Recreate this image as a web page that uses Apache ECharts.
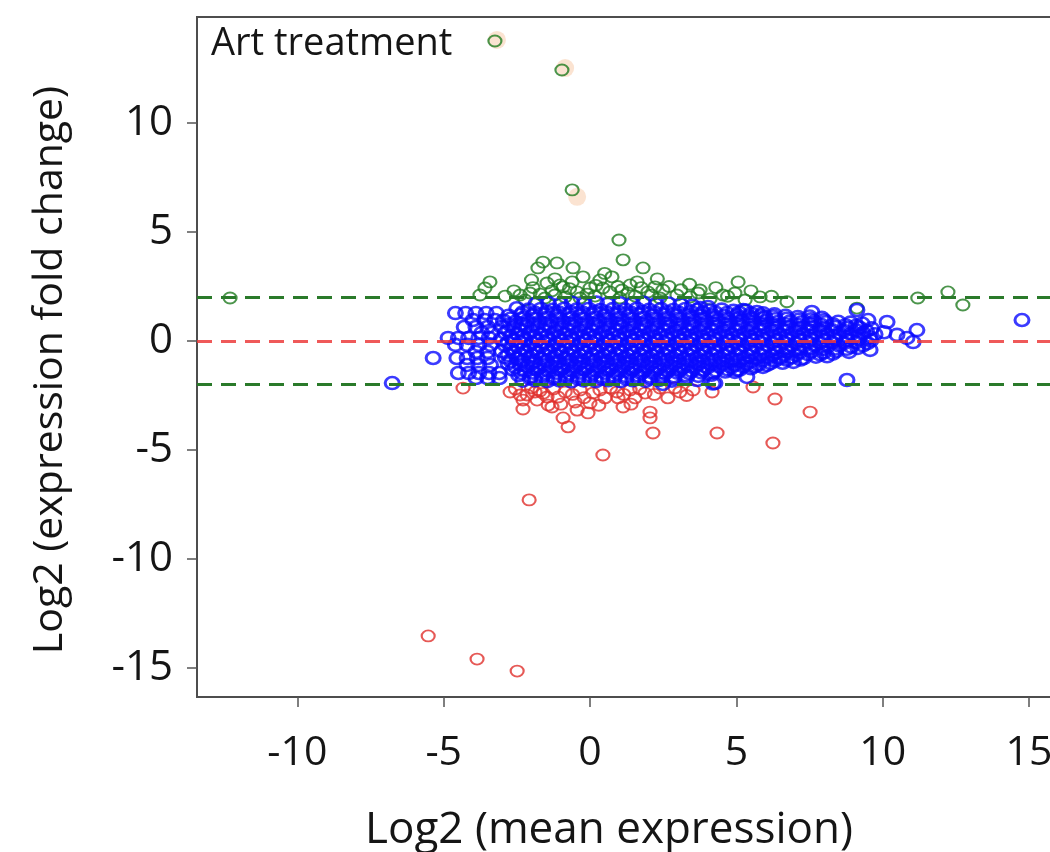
<!DOCTYPE html>
<html>
<head>
<meta charset="utf-8">
<title>Art treatment MA plot</title>
<script src="https://cdn.jsdelivr.net/npm/echarts@6.0.0/dist/echarts.min.js"></script>
<style>
  html, body { margin: 0; padding: 0; background: #fff; }
  #chart { width: 1050px; height: 852px; }
</style>
</head>
<body>
<div id="chart"></div>
<script>
// axis ticks
const xTicks = [-10, -5, 0, 5, 10, 15]
const yTicks = [-15, -10, -5, 0, 5, 10]
// fold change cut-offs (dashed lines)
const upCut = 2
const downCut = -2
const zeroLine = 0

// [log2 mean expression, log2 fold change]
const greenPoints = [
  [-12.3, 1.97], [-3.76, 2.11], [-3.59, 2.43], [-3.42, 2.71], [-2.9, 2.06], [-2.39, 2.11],
  [-2.05, 2.2], [-1.78, 3.35], [-1.61, 3.62], [-1.13, 3.58], [-0.58, 3.35], [-1.47, 2.66],
  [-0.92, 2.48], [-0.44, 2.25], [-0.24, 2.94], [0, 2.43], [0.34, 2.8], [0.44, 2.43],
  [0.75, 2.94], [0.68, 2.25], [0.99, 4.63], [1.13, 3.72], [1.81, 3.35], [1.09, 2.34],
  [1.61, 2.71], [1.98, 2.25], [2.49, 2.34], [2.97, 2.11], [3.69, 2.2], [4.54, 2.11],
  [4.95, 2.2], [5.06, 2.71], [5.81, 2.02], [6.73, 1.8], [9.12, 1.51], [11.2, 1.97],
  [12.23, 2.25], [12.74, 1.65], [-2.22, 1.88], [-1.54, 1.97], [-1.2, 2.11], [-0.85, 2.02],
  [-0.34, 1.97], [0.17, 2.06], [1.02, 1.97], [1.54, 2.06], [2.39, 1.97], [3.42, 2.02],
  [4.1, 1.93], [-1.02, 2.57], [-0.61, 2.71], [1.37, 2.57], [2.22, 2.48], [3.76, 2.34],
  [5.3, 1.88], [-2.6, 2.3], [-1.95, 2.45], [-1.7, 2.15], [-1.3, 2.3], [-0.7, 2.4],
  [-0.1, 2.15], [0.2, 2.55], [0.95, 2.5], [1.3, 2.2], [1.75, 2.45], [2.1, 2.1],
  [2.7, 2.5], [3.1, 2.35], [3.4, 2.6], [4.3, 2.45], [4.7, 2.05], [5.5, 2.3],
  [6.2, 2.05], [-2.0, 2.8], [-1.2, 2.85], [0.5, 3.1], [2.3, 2.85],
  [-3.25, 13.76], [-0.96, 12.43], [-0.61, 6.93]
]

const redPoints = [
  [-4.34, -2.16], [-2.73, -2.34], [-2.39, -2.48], [-2.15, -2.48], [-1.88, -2.34], [-1.47, -2.57],
  [-1.09, -2.57], [-0.85, -2.34], [-1.81, -2.71], [-2.29, -3.12], [-1.3, -3.03], [-0.51, -2.8],
  [0, -2.84], [-0.44, -3.17], [-0.07, -3.3], [-0.92, -3.53], [-0.75, -3.94], [0.1, -2.39],
  [0.51, -2.61], [0.92, -2.34], [0.96, -2.61], [1.13, -3.03], [1.54, -2.61], [1.88, -2.39],
  [2.05, -3.26], [2.05, -3.53], [2.15, -4.22], [0.44, -5.23], [2.66, -2.61], [3.07, -2.34],
  [3.52, -2.25], [4.17, -2.34], [5.57, -2.11], [6.32, -2.66], [7.52, -3.26], [4.34, -4.22],
  [6.25, -4.68], [-2.08, -7.29], [-5.53, -13.53], [-3.86, -14.59], [-2.49, -15.14], [-1.71, -2.29],
  [-0.34, -2.25], [0.34, -2.25], [1.37, -2.25], [2.39, -2.16], [-2.29, -2.71], [-1.43, -2.94],
  [-2.55, -2.2], [-2.0, -2.15], [-1.6, -2.4], [-1.25, -2.2], [-0.6, -2.45], [-0.2, -2.6],
  [0.7, -2.15], [1.15, -2.45], [1.7, -2.2], [2.2, -2.45], [2.9, -2.15], [3.3, -2.5],
  [-1.0, -2.9], [0.3, -2.95], [1.4, -2.9]
]

// the dense cloud between the cut-offs
const bluePoints = [
  [-1.85, 1.7], [-1.42, 1.74], [-1.0, 1.7], [-0.62, 1.75], [-0.2, 1.71], [0.22, 1.76], [0.6, 1.7],
  [1.02, 1.73], [1.45, 1.7], [1.83, 1.75], [2.25, 1.69], [2.68, 1.72], [3.1, 1.68], [3.5, 1.62],

  [-2.5, 1.5], [-2.1, 1.44], [-1.68, 1.47], [-1.27, 1.43], [-0.88, 1.48], [-0.46, 1.44], [-0.05, 1.47],
  [0.36, 1.42], [0.78, 1.46], [1.2, 1.44], [1.6, 1.48], [2.02, 1.43], [2.43, 1.46], [2.85, 1.42],
  [3.26, 1.47], [3.66, 1.43], [4.08, 1.4], [4.5, 1.44], [4.9, 1.38], [5.32, 1.4], [5.7, 1.33],

  [-2.78, 1.16], [-2.36, 1.21], [-1.95, 1.17], [-1.55, 1.2], [-1.14, 1.15], [-0.74, 1.19], [-0.33, 1.16],
  [0.08, 1.2], [0.5, 1.16], [0.9, 1.19], [1.32, 1.15], [1.72, 1.2], [2.14, 1.16], [2.55, 1.19],
  [2.96, 1.15], [3.38, 1.2], [3.78, 1.16], [4.2, 1.18], [4.6, 1.14], [5.02, 1.18], [5.44, 1.13],
  [5.85, 1.17], [6.26, 1.12], [6.68, 1.15], [7.1, 1.1], [7.5, 1.12], [7.92, 1.06],

  [-2.96, 0.93], [-2.55, 0.88], [-2.14, 0.92], [-1.73, 0.87], [-1.33, 0.91], [-0.92, 0.88], [-0.52, 0.92],
  [-0.12, 0.87], [0.3, 0.91], [0.7, 0.88], [1.11, 0.92], [1.52, 0.87], [1.93, 0.91], [2.34, 0.88],
  [2.74, 0.92], [3.16, 0.87], [3.56, 0.91], [3.97, 0.88], [4.38, 0.92], [4.78, 0.87], [5.2, 0.91],
  [5.6, 0.88], [6.02, 0.92], [6.42, 0.87], [6.84, 0.9], [7.24, 0.86], [7.66, 0.9], [8.06, 0.86],
  [8.48, 0.88], [8.9, 0.84], [9.3, 0.8],

  [-3.02, 0.65], [-2.61, 0.6], [-2.2, 0.64], [-1.8, 0.6], [-1.39, 0.63], [-0.98, 0.59], [-0.58, 0.64],
  [-0.17, 0.6], [0.24, 0.63], [0.64, 0.59], [1.05, 0.64], [1.46, 0.6], [1.86, 0.63], [2.27, 0.59],
  [2.68, 0.64], [3.08, 0.6], [3.5, 0.63], [3.9, 0.59], [4.31, 0.64], [4.72, 0.6], [5.12, 0.63],
  [5.53, 0.59], [5.94, 0.64], [6.35, 0.6], [6.75, 0.63], [7.16, 0.59], [7.57, 0.63], [7.98, 0.6],
  [8.38, 0.64], [8.8, 0.6], [9.2, 0.62], [9.62, 0.58],

  [-2.9, 0.37], [-2.49, 0.32], [-2.08, 0.36], [-1.67, 0.31], [-1.26, 0.35], [-0.86, 0.32], [-0.45, 0.36],
  [-0.04, 0.31], [0.37, 0.35], [0.77, 0.32], [1.18, 0.36], [1.59, 0.31], [2.0, 0.35], [2.4, 0.32],
  [2.81, 0.36], [3.22, 0.31], [3.63, 0.35], [4.03, 0.32], [4.44, 0.36], [4.85, 0.31], [5.26, 0.35],
  [5.66, 0.32], [6.07, 0.36], [6.48, 0.31], [6.89, 0.35], [7.29, 0.32], [7.7, 0.36], [8.11, 0.31],
  [8.52, 0.35], [8.92, 0.32], [9.33, 0.36], [9.74, 0.31], [10.05, 0.4],

  [-3.04, 0.09], [-2.63, 0.04], [-2.22, 0.08], [-1.81, 0.03], [-1.41, 0.07], [-1.0, 0.04], [-0.59, 0.08],
  [-0.18, 0.03], [0.22, 0.07], [0.63, 0.04], [1.04, 0.08], [1.45, 0.03], [1.85, 0.07], [2.26, 0.04],
  [2.67, 0.08], [3.08, 0.03], [3.48, 0.07], [3.89, 0.04], [4.3, 0.08], [4.71, 0.03], [5.11, 0.07],
  [5.52, 0.04], [5.93, 0.08], [6.34, 0.03], [6.74, 0.07], [7.15, 0.04], [7.56, 0.08], [7.97, 0.03],
  [8.37, 0.07], [8.78, 0.04], [9.19, 0.08], [9.6, 0.02],

  [-2.9, -0.19], [-2.49, -0.24], [-2.08, -0.2], [-1.67, -0.25], [-1.26, -0.21], [-0.86, -0.24], [-0.45, -0.2],
  [-0.04, -0.25], [0.37, -0.21], [0.77, -0.24], [1.18, -0.2], [1.59, -0.25], [2.0, -0.21], [2.4, -0.24],
  [2.81, -0.2], [3.22, -0.25], [3.63, -0.21], [4.03, -0.24], [4.44, -0.2], [4.85, -0.25], [5.26, -0.21],
  [5.66, -0.24], [6.07, -0.2], [6.48, -0.25], [6.89, -0.21], [7.29, -0.24], [7.7, -0.2], [8.11, -0.25],
  [8.52, -0.21], [8.92, -0.26], [9.33, -0.2],

  [-3.02, -0.47], [-2.61, -0.52], [-2.2, -0.48], [-1.8, -0.53], [-1.39, -0.49], [-0.98, -0.52], [-0.58, -0.48],
  [-0.17, -0.53], [0.24, -0.49], [0.64, -0.52], [1.05, -0.48], [1.46, -0.53], [1.86, -0.49], [2.27, -0.52],
  [2.68, -0.48], [3.08, -0.53], [3.5, -0.49], [3.9, -0.52], [4.31, -0.48], [4.72, -0.53], [5.12, -0.49],
  [5.53, -0.52], [5.94, -0.48], [6.35, -0.53], [6.75, -0.49], [7.16, -0.52], [7.57, -0.48], [7.98, -0.53],
  [8.4, -0.47], [8.85, -0.5],

  [-2.9, -0.75], [-2.49, -0.8], [-2.08, -0.76], [-1.67, -0.81], [-1.26, -0.77], [-0.86, -0.8], [-0.45, -0.76],
  [-0.04, -0.81], [0.37, -0.77], [0.77, -0.8], [1.18, -0.76], [1.59, -0.81], [2.0, -0.77], [2.4, -0.8],
  [2.81, -0.76], [3.22, -0.81], [3.63, -0.77], [4.03, -0.8], [4.44, -0.76], [4.85, -0.81], [5.26, -0.77],
  [5.66, -0.8], [6.07, -0.76], [6.48, -0.8], [6.89, -0.75], [7.3, -0.78], [7.72, -0.72], [8.1, -0.7],

  [-2.8, -1.03], [-2.39, -1.08], [-1.98, -1.04], [-1.57, -1.09], [-1.17, -1.05], [-0.76, -1.08], [-0.35, -1.04],
  [0.06, -1.09], [0.46, -1.05], [0.87, -1.08], [1.28, -1.04], [1.69, -1.09], [2.09, -1.05], [2.5, -1.08],
  [2.91, -1.04], [3.32, -1.09], [3.72, -1.05], [4.13, -1.08], [4.54, -1.04], [4.95, -1.09], [5.35, -1.04],
  [5.76, -1.07], [6.17, -1.02], [6.58, -1.0], [6.95, -0.96],

  [-2.64, -1.31], [-2.23, -1.36], [-1.82, -1.32], [-1.42, -1.37], [-1.01, -1.33], [-0.6, -1.36], [-0.19, -1.32],
  [0.21, -1.37], [0.62, -1.33], [1.03, -1.36], [1.44, -1.32], [1.84, -1.37], [2.25, -1.33], [2.66, -1.36],
  [3.07, -1.32], [3.47, -1.37], [3.88, -1.33], [4.29, -1.35], [4.7, -1.3], [5.1, -1.32], [5.5, -1.25],

  [-2.44, -1.57], [-2.03, -1.62], [-1.62, -1.58], [-1.22, -1.63], [-0.81, -1.59], [-0.4, -1.62], [0.01, -1.58],
  [0.41, -1.63], [0.82, -1.59], [1.23, -1.62], [1.64, -1.58], [2.04, -1.63], [2.45, -1.59], [2.86, -1.62],
  [3.27, -1.57], [3.7, -1.6], [4.15, -1.55],

  [-2.3, -1.82], [-1.88, -1.8], [-1.46, -1.84], [-1.05, -1.81], [-0.64, -1.85], [-0.22, -1.81], [0.2, -1.84],
  [0.62, -1.8], [1.04, -1.84], [1.46, -1.8], [1.9, -1.83], [2.35, -1.79], [2.8, -1.82],

  // inner core, points lying between the rows above
  [-2.29, 1.32], [-1.88, 1.29], [-1.47, 1.33], [-1.06, 1.3], [-0.65, 1.32], [-0.24, 1.29], [0.17, 1.33],
  [0.58, 1.3], [0.99, 1.32], [1.4, 1.29], [1.81, 1.33], [2.22, 1.3], [2.63, 1.32], [3.04, 1.29],
  [3.45, 1.33], [3.86, 1.3], [4.27, 1.31], [4.68, 1.28], [5.09, 1.3], [5.5, 1.26], [5.91, 1.27], [6.3, 1.22],

  [-2.7, 1.03], [-2.29, 1.05], [-1.88, 1.02], [-1.47, 1.06], [-1.06, 1.03], [-0.65, 1.05], [-0.24, 1.02],
  [0.17, 1.06], [0.58, 1.03], [0.99, 1.05], [1.4, 1.02], [1.81, 1.06], [2.22, 1.03], [2.63, 1.05],
  [3.04, 1.02], [3.45, 1.06], [3.86, 1.03], [4.27, 1.05], [4.68, 1.02], [5.09, 1.05], [5.5, 1.02],
  [5.91, 1.04], [6.32, 1.0], [6.73, 1.02], [7.14, 0.98], [7.55, 0.99], [8.0, 0.95],

  [-2.75, 0.76], [-2.34, 0.78], [-1.93, 0.75], [-1.52, 0.77], [-1.11, 0.74], [-0.7, 0.78], [-0.29, 0.75],
  [0.12, 0.77], [0.53, 0.74], [0.94, 0.78], [1.35, 0.75], [1.76, 0.77], [2.17, 0.74], [2.58, 0.78],
  [2.99, 0.75], [3.4, 0.77], [3.81, 0.74], [4.22, 0.78], [4.63, 0.75], [5.04, 0.77], [5.45, 0.74],
  [5.86, 0.78], [6.27, 0.75], [6.68, 0.77], [7.09, 0.74], [7.5, 0.76], [7.91, 0.73], [8.32, 0.75],
  [8.73, 0.72], [9.1, 0.7],

  [-2.8, 0.48], [-2.39, 0.5], [-1.98, 0.47], [-1.57, 0.49], [-1.16, 0.46], [-0.75, 0.5], [-0.34, 0.47],
  [0.07, 0.49], [0.48, 0.46], [0.89, 0.5], [1.3, 0.47], [1.71, 0.49], [2.12, 0.46], [2.53, 0.5],
  [2.94, 0.47], [3.35, 0.49], [3.76, 0.46], [4.17, 0.5], [4.58, 0.47], [4.99, 0.49], [5.4, 0.46],
  [5.81, 0.5], [6.22, 0.47], [6.63, 0.49], [7.04, 0.46], [7.45, 0.5], [7.86, 0.47], [8.27, 0.49],
  [8.68, 0.46], [9.09, 0.49], [9.45, 0.45],

  [-2.7, 0.2], [-2.29, 0.22], [-1.88, 0.19], [-1.47, 0.21], [-1.06, 0.18], [-0.65, 0.22], [-0.24, 0.19],
  [0.17, 0.21], [0.58, 0.18], [0.99, 0.22], [1.4, 0.19], [1.81, 0.21], [2.22, 0.18], [2.63, 0.22],
  [3.04, 0.19], [3.45, 0.21], [3.86, 0.18], [4.27, 0.22], [4.68, 0.19], [5.09, 0.21], [5.5, 0.18],
  [5.91, 0.22], [6.32, 0.19], [6.73, 0.21], [7.14, 0.18], [7.55, 0.22], [7.96, 0.19], [8.37, 0.21],
  [8.78, 0.18], [9.19, 0.22], [9.55, 0.17],

  [-2.8, -0.08], [-2.39, -0.06], [-1.98, -0.09], [-1.57, -0.07], [-1.16, -0.1], [-0.75, -0.06], [-0.34, -0.09],
  [0.07, -0.07], [0.48, -0.1], [0.89, -0.06], [1.3, -0.09], [1.71, -0.07], [2.12, -0.1], [2.53, -0.06],
  [2.94, -0.09], [3.35, -0.07], [3.76, -0.1], [4.17, -0.06], [4.58, -0.09], [4.99, -0.07], [5.4, -0.1],
  [5.81, -0.06], [6.22, -0.09], [6.63, -0.07], [7.04, -0.1], [7.45, -0.06], [7.86, -0.09], [8.27, -0.07],
  [8.68, -0.1], [9.09, -0.06], [9.48, -0.1],

  [-2.7, -0.36], [-2.29, -0.34], [-1.88, -0.37], [-1.47, -0.35], [-1.06, -0.38], [-0.65, -0.34], [-0.24, -0.37],
  [0.17, -0.35], [0.58, -0.38], [0.99, -0.34], [1.4, -0.37], [1.81, -0.35], [2.22, -0.38], [2.63, -0.34],
  [3.04, -0.37], [3.45, -0.35], [3.86, -0.38], [4.27, -0.34], [4.68, -0.37], [5.09, -0.35], [5.5, -0.38],
  [5.91, -0.34], [6.32, -0.37], [6.73, -0.35], [7.14, -0.38], [7.55, -0.34], [7.96, -0.37], [8.37, -0.35],
  [8.78, -0.36], [9.15, -0.32],

  [-2.8, -0.64], [-2.39, -0.62], [-1.98, -0.65], [-1.57, -0.63], [-1.16, -0.66], [-0.75, -0.62], [-0.34, -0.65],
  [0.07, -0.63], [0.48, -0.66], [0.89, -0.62], [1.3, -0.65], [1.71, -0.63], [2.12, -0.66], [2.53, -0.62],
  [2.94, -0.65], [3.35, -0.63], [3.76, -0.66], [4.17, -0.62], [4.58, -0.65], [4.99, -0.63], [5.4, -0.66],
  [5.81, -0.62], [6.22, -0.65], [6.63, -0.63], [7.04, -0.64], [7.45, -0.6], [7.86, -0.61], [8.3, -0.58],

  [-2.7, -0.92], [-2.29, -0.9], [-1.88, -0.93], [-1.47, -0.91], [-1.06, -0.94], [-0.65, -0.9], [-0.24, -0.93],
  [0.17, -0.91], [0.58, -0.94], [0.99, -0.9], [1.4, -0.93], [1.81, -0.91], [2.22, -0.94], [2.63, -0.9],
  [3.04, -0.93], [3.45, -0.91], [3.86, -0.94], [4.27, -0.9], [4.68, -0.93], [5.09, -0.91], [5.5, -0.93],
  [5.91, -0.89], [6.32, -0.9], [6.73, -0.86], [7.2, -0.85],

  [-2.55, -1.2], [-2.14, -1.18], [-1.73, -1.21], [-1.32, -1.19], [-0.91, -1.22], [-0.5, -1.18], [-0.09, -1.21],
  [0.32, -1.19], [0.73, -1.22], [1.14, -1.18], [1.55, -1.21], [1.96, -1.19], [2.37, -1.22], [2.78, -1.18],
  [3.19, -1.21], [3.6, -1.19], [4.01, -1.22], [4.42, -1.18], [4.83, -1.2], [5.24, -1.16], [5.65, -1.15],
  [6.05, -1.1],

  [-2.35, -1.47], [-1.94, -1.45], [-1.53, -1.48], [-1.12, -1.46], [-0.71, -1.49], [-0.3, -1.45], [0.11, -1.48],
  [0.52, -1.46], [0.93, -1.49], [1.34, -1.45], [1.75, -1.48], [2.16, -1.46], [2.57, -1.49], [2.98, -1.45],
  [3.39, -1.47], [3.8, -1.44], [4.21, -1.45], [4.62, -1.4], [4.95, -1.42],

  [-2.05, -1.71], [-1.64, -1.69], [-1.23, -1.72], [-0.82, -1.7], [-0.41, -1.73], [0.0, -1.69], [0.41, -1.72],
  [0.82, -1.7], [1.23, -1.73], [1.64, -1.69], [2.05, -1.72], [2.46, -1.7], [2.87, -1.71], [3.3, -1.68],

  // left fringe
  [-4.6, 1.28], [-4.25, 1.28], [-3.9, 1.28], [-3.55, 1.28], [-3.2, 1.28],
  [-4.0, 0.96], [-3.6, 0.96], [-3.25, 0.96],
  [-4.3, 0.64], [-3.9, 0.64], [-3.5, 0.64],
  [-3.7, 0.37], [-3.35, 0.37],
  [-4.85, 0.14], [-4.5, 0.14], [-4.15, 0.14], [-3.8, 0.14], [-3.45, 0.14],
  [-4.6, -0.18], [-4.2, -0.18], [-3.8, -0.18], [-3.4, -0.18],
  [-3.9, -0.5], [-3.5, -0.5],
  [-5.36, -0.78], [-4.55, -0.78], [-4.2, -0.78], [-3.85, -0.78], [-3.5, -0.78],
  [-4.2, -1.1], [-3.8, -1.1], [-3.4, -1.1],
  [-4.5, -1.47], [-4.15, -1.47], [-3.8, -1.47], [-3.45, -1.47], [-3.1, -1.47],
  [-3.9, -1.7], [-3.5, -1.7], [-3.1, -1.7],
  [-6.76, -1.93],

  // right side and stragglers
  [3.76, 1.51], [4.03, 1.56], [5.23, 1.42], [5.98, 1.1], [7.58, 1.33], [9.12, 1.42], [9.5, 0.96],
  [10.15, 0.87], [10.49, 0.28], [10.83, 0.14], [11.17, 0.5], [11.04, -0.05], [9.57, -0.41],
  [14.76, 0.96], [8.78, -1.79], [5.02, -1.33], [5.36, -1.65], [4.27, -1.93], [5.91, -1.19],
  [4.2, -1.95], [3.66, -1.79], [2.49, -1.97], [6.49, -0.73]
]

// pale halo behind the three highest genes
const haloPoints = [[-3.18, 13.81], [-0.85, 12.52], [-0.44, 6.61]]

const myChart = echarts.init(document.getElementById('chart'))

const fontFamily = "'Open Sans', sans-serif"

const ring = (color, size, width) => ({
  type: 'scatter',
  symbol: 'circle',
  symbolSize: size,
  itemStyle: {
    color: 'rgba(255,255,255,0)',
    borderColor: color,
    borderWidth: width
  }
})

const option = {
  animation: false,
  backgroundColor: '#fff',
  textStyle: { fontFamily },
  title: {
    text: 'Art treatment',
    left: 206,
    top: 20,
    textStyle: { fontFamily, fontSize: 38, fontWeight: 'normal', color: '#151515' }
  },
  grid: {
    left: 197,
    right: -3,
    top: 17,
    bottom: 155,
    outerBoundsMode: 'none',
    containLabel: false,
    show: true,
    borderColor: '#4d4d4d',
    borderWidth: 2
  },
  xAxis: {
    type: 'value',
    min: -13.43,
    max: 15.82,
    name: 'Log2 (mean expression)',
    nameLocation: 'middle',
    nameGap: 111,
    nameTextStyle: { fontFamily, fontSize: 44, color: '#151515', padding: [0, 32, 0, 0] },
    axisLine: { show: false, onZero: false },
    axisTick: { show: true, length: 10, customValues: xTicks, lineStyle: { color: '#555', width: 1.5 } },
    axisLabel: {
      customValues: xTicks,
      margin: 36,
      fontSize: 41,
      color: '#151515',
      formatter: (v) => (xTicks.includes(v) ? String(v) : '')
    },
    splitLine: { show: false }
  },
  yAxis: {
    type: 'value',
    min: -16.33,
    max: 14.86,
    name: 'Log2 (expression fold change)',
    nameLocation: 'middle',
    nameGap: 126,
    nameTextStyle: { fontFamily, fontSize: 41, color: '#151515', padding: [0, 26, 0, 0] },
    axisLine: { show: false, onZero: false },
    axisTick: { show: true, length: 10, customValues: yTicks, lineStyle: { color: '#555', width: 1.5 } },
    axisLabel: {
      customValues: yTicks,
      margin: 24,
      fontSize: 42,
      color: '#151515',
      formatter: (v) => (yTicks.includes(v) ? String(v) : '')
    },
    splitLine: { show: false }
  },
  series: [
    {
      name: 'halo',
      type: 'scatter',
      symbolSize: 18,
      itemStyle: { color: 'rgba(244,186,140,0.5)' },
      data: haloPoints,
      z: 1
    },
    { name: 'up', data: greenPoints, z: 2, ...ring('#1f7a1f', [13, 11], 2) },
    { name: 'down', data: redPoints, z: 2, ...ring('#e0302c', [13, 11], 2) },
    {
      name: 'unchanged',
      data: bluePoints,
      z: 3,
      ...ring('#0a0aff', [14, 12], 2.8),
      markLine: {
        silent: true,
        symbol: 'none',
        label: { show: false },
        z: 6,
        data: [
          { yAxis: upCut, lineStyle: { color: '#2a7a2a', type: [15, 9], width: 3 } },
          { yAxis: zeroLine, lineStyle: { color: 'rgba(236,60,60,0.85)', type: [15, 9], width: 3 } },
          { yAxis: downCut, lineStyle: { color: '#2a7a2a', type: [15, 9], width: 3 } }
        ]
      }
    }
  ]
}

myChart.setOption(option)
</script>
</body>
</html>
